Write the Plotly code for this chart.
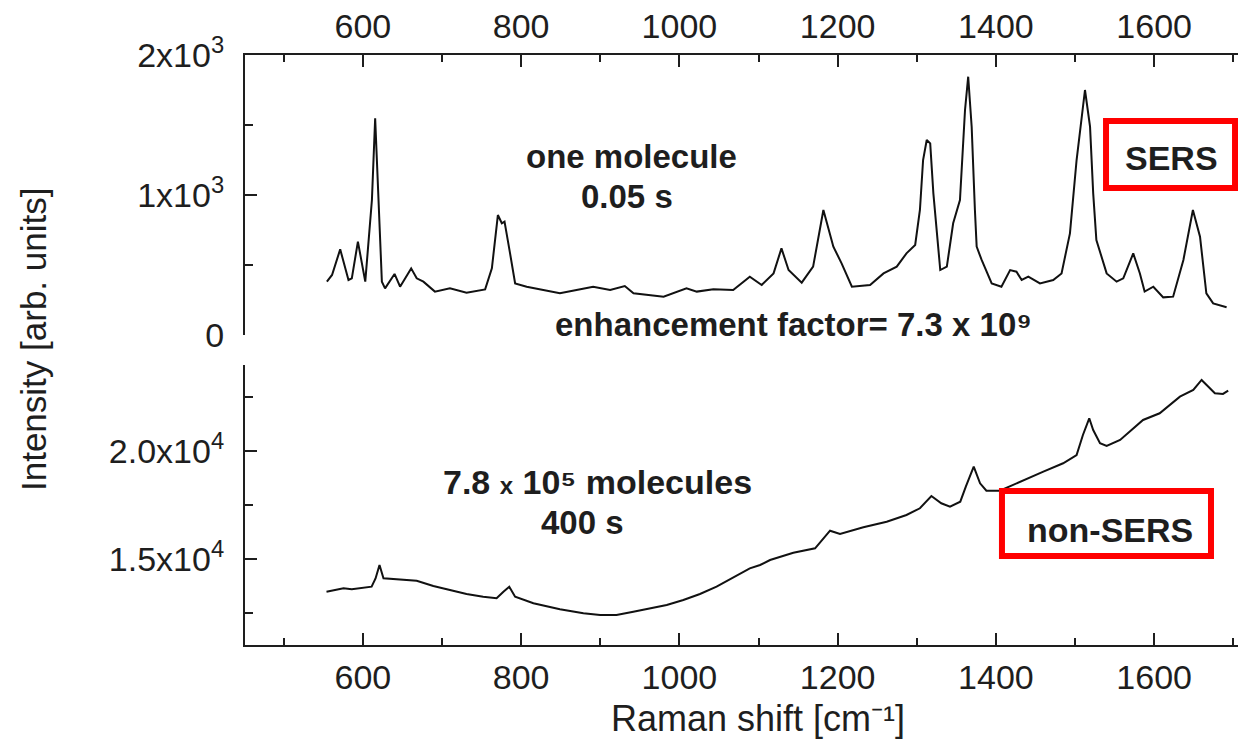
import plotly.graph_objects as go

# ---- data ----
sers_shift = [554.5, 561, 571.3, 581.8, 586, 593.7, 603, 611.4, 615.5, 619.7, 624, 628, 640, 647, 661, 668,
              676.5, 691, 710, 731, 754.5, 763, 770.6, 775.6, 779, 786, 792.4, 807, 828, 849, 870, 891,
              912.5, 931, 942, 980, 1009, 1022, 1043, 1068, 1089, 1104, 1119, 1129, 1138, 1154.6, 1169,
              1178, 1182, 1194.6, 1205, 1218, 1241, 1258, 1274.7, 1287, 1298, 1304, 1308, 1312.6, 1317,
              1321, 1329.7, 1338, 1346, 1354.6, 1361, 1365, 1369.4, 1373.5, 1375.7, 1382, 1394.7, 1407,
              1418, 1426, 1432.6, 1441, 1455.7, 1472.5, 1483, 1493.6, 1502, 1512.6, 1519, 1523, 1527,
              1540, 1552.6, 1561, 1573.6, 1582, 1588, 1599, 1611.5, 1624, 1637, 1649, 1658, 1666,
              1674.6, 1691.6]
sers_int = [381, 429, 612, 393, 405, 667, 381, 964, 1548, 964, 381, 333, 436, 345, 476, 405,
            381, 310, 333, 302, 326, 476, 857, 798, 810, 583, 369, 345, 321, 298, 321, 345,
            321, 350, 298, 274, 333, 310, 326, 321, 417, 357, 440, 619, 464, 374, 488,
            774, 893, 631, 512, 345, 357, 440, 488, 583, 643, 893, 1250, 1393, 1369,
            1012, 464, 488, 798, 964, 1607, 1845, 1488, 893, 631, 536, 369, 345,
            464, 452, 393, 417, 369, 393, 440, 726, 1250, 1750, 1488, 1012, 679,
            440, 381, 405, 583, 440, 310, 345, 269, 274, 536, 893, 702, 298,
            226, 198]

non_shift = [554, 565, 575.5, 586, 596.6, 611, 616, 621, 626, 647, 668, 689, 710, 731, 752, 769, 777.6,
             785, 792.4, 815.5, 849, 878.7, 899.8, 920.5, 941.8, 963, 984, 1005, 1026, 1047, 1068,
             1089, 1102, 1114.6, 1144, 1171.5, 1190.4, 1203, 1232.5, 1262, 1287, 1304, 1318.5, 1331,
             1342, 1355, 1362, 1372, 1380, 1388, 1405, 1430.5, 1460, 1485, 1502, 1510, 1518, 1523,
             1531.6, 1540, 1557, 1586, 1607, 1632.6, 1649.5, 1660, 1668, 1676.8, 1687, 1693.6]
non_int = [13486, 13560, 13643, 13600, 13643, 13718, 14100, 14722, 14106, 14060, 13996, 13750, 13565,
           13380, 13255, 13180, 13486, 13718, 13255, 12950, 12671, 12486, 12407, 12407, 12560, 12717,
           12870, 13102, 13380, 13718, 14153, 14569, 14722, 14954, 15292, 15495, 16310, 16157, 16468,
           16727, 17037, 17347, 17917, 17579, 17421, 17653, 18347, 19273, 18505, 18162, 18162, 18579,
           19042, 19431, 19815, 20741, 21514, 20972, 20356, 20231, 20509, 21435, 21745, 22514, 22824,
           23287, 22978, 22670, 22640, 22792]

top_ticks = [0, 1000, 2000]
top_ticktext = ["0", "1x10<sup>3</sup>", "2x10<sup>3</sup>"]
bot_ticks = [15000, 20000]
bot_ticktext = ["1.5x10<sup>4</sup>", "2.0x10<sup>4</sup>"]
x_ticks = [600, 800, 1000, 1200, 1400, 1600]

# ---- figure ----
INK = "#1e1e1e"
FONT = "Liberation Sans, Arial, sans-serif"

fig = go.Figure()
fig.add_trace(go.Scatter(x=sers_shift, y=sers_int, mode="lines",
                         line=dict(color="#111111", width=2), xaxis="x", yaxis="y", showlegend=False))
fig.add_trace(go.Scatter(x=non_shift, y=non_int, mode="lines",
                         line=dict(color="#111111", width=2), xaxis="x2", yaxis="y2", showlegend=False))

xcommon = dict(range=[451, 1706], tickvals=x_ticks, ticks="inside", ticklen=12, tickwidth=2,
               tickcolor=INK, showline=True, linecolor=INK, linewidth=2, showgrid=False,
               zeroline=False, tickfont=dict(family=FONT, size=34, color=INK),
               ticklabelstandoff=1,
               minor=dict(dtick=100, tick0=0, ticks="inside", ticklen=7, tickwidth=2, tickcolor=INK,
                          showgrid=False))
ycommon = dict(ticks="inside", ticklen=12, tickwidth=2, tickcolor=INK, showline=True, linecolor=INK,
               linewidth=2, showgrid=False, zeroline=False,
               tickfont=dict(family=FONT, size=34, color=INK), ticklabelstandoff=12)

fig.update_layout(
    width=1238, height=742,
    margin=dict(l=245, r=0, t=55, b=97),
    paper_bgcolor="white", plot_bgcolor="white",
    xaxis=dict(xcommon, side="top", anchor="y"),
    yaxis=dict(ycommon, domain=[0.5254, 1.0], range=[0, 2000], tickvals=top_ticks,
               ticktext=top_ticktext, anchor="x",
               minor=dict(dtick=500, tick0=0, ticks="inside", ticklen=8, tickwidth=2, tickcolor=INK,
                          showgrid=False)),
    xaxis2=dict(xcommon, side="bottom", anchor="y2"),
    yaxis2=dict(ycommon, domain=[0.0, 0.4746], range=[11019, 23981], tickvals=bot_ticks,
                ticktext=bot_ticktext, anchor="x2",
                minor=dict(dtick=2500, tick0=0, ticks="inside", ticklen=8, tickwidth=2, tickcolor=INK,
                           showgrid=False)),
)

def ann(text, x, y, size, bold=True, **kw):
    fig.add_annotation(text=text, x=x, y=y, xref="paper", yref="paper", showarrow=False,
                       xanchor="center", yanchor="middle",
                       font=dict(family=FONT, size=size, color=INK,
                                 weight="bold" if bold else "normal"), **kw)

ann("one molecule", 0.3897, 0.8288, 33)
ann("0.05 s", 0.3847, 0.7610, 33)
ann("enhancement factor= 7.3 x 10\u2079", 0.5519, 0.5424, 33)
ann("7.8 <span style='font-size:24px'>x</span> 10\u2075 molecules", 0.3545, 0.2763, 34)
ann("400 s", 0.3394, 0.2068, 33)
ann("SERS", 0.9335, 0.8254, 34)
ann("non-SERS", 0.8711, 0.1949, 34)

ann("Intensity [arb. units]", -0.2135, 0.5186, 35, bold=False, textangle=-90)
ann("Raman shift [cm\u207b\u00b9]", 0.5166, -0.124, 36, bold=False)

fig.add_shape(type="rect", xref="paper", yref="paper", x0=0.8671, x1=0.9970, y0=0.7746, y1=0.8881,
              line=dict(color="#ff0000", width=6))
fig.add_shape(type="rect", xref="paper", yref="paper", x0=0.7623, x1=0.9728, y0=0.1508, y1=0.2610,
              line=dict(color="#ff0000", width=6))

fig.write_html("out.html")
